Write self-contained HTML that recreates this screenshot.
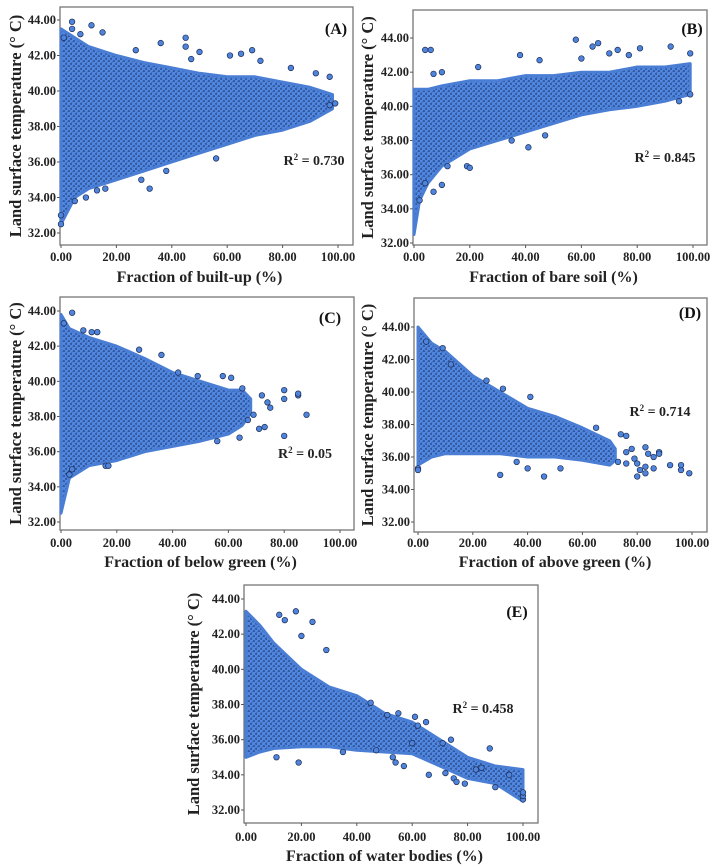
<!DOCTYPE html>
<html><head><meta charset="utf-8">
<style>
html,body{margin:0;padding:0;background:#fff;}
svg{display:block;font-family:"Liberation Serif",serif;font-weight:bold;}
</style></head>
<body>
<svg id="fig" width="715" height="868" viewBox="0 0 715 868">
<defs>
<pattern id="dots" width="5" height="5" patternUnits="userSpaceOnUse">
<rect width="5" height="5" fill="#3a66b8"/>
<circle cx="1.25" cy="1.25" r="2.3" fill="#5087e0" stroke="#22386a" stroke-width="0.45"/>
<circle cx="3.75" cy="3.75" r="2.3" fill="#5087e0" stroke="#22386a" stroke-width="0.45"/>
</pattern>
</defs>
</svg>
<script>
// Panel A: built-up
const aX=[0,5,10,20,30,40,50,60,70,80,90,98];
const aLo=[32.5,34,34.5,35,35.5,36,36.5,37,37.5,37.8,38.3,39];
const aHi=[43.5,43,42.5,42,41.6,41.3,41,40.8,40.8,40.5,40.2,39.8];
const aOutX=[4,11,4,15,7,1,45,36,45,27,69,50,65,61,72,83,92,97,99,56,32,16,13,9,5,0,0,29,38,97,47];
const aOutY=[43.9,43.7,43.5,43.3,43.2,43,43,42.7,42.5,42.3,42.3,42.2,42.1,42,41.7,41.3,41,40.8,39.3,36.2,34.5,34.5,34.4,34,33.8,32.5,33,35,35.5,39.2,41.8];
// Panel B: bare soil
const bX=[0,2,5,10,20,30,40,50,60,70,80,90,99];
const bLo=[32.5,34.5,35.5,36.5,37.5,38,38.5,39,39.5,39.8,40,40.3,40.7];
const bHi=[41,41,41,41.2,41.5,41.5,41.8,41.8,42,42,42.3,42.3,42.5];
const bOutX=[4,6,58,66,64,92,38,99,70,73,81,45,7,10,23,4,7,10,2,12,19,41,47,35,20,95,99,77,60];
const bOutY=[43.3,43.3,43.9,43.7,43.5,43.5,43,43.1,43.1,43.3,43.4,42.7,41.9,42,42.3,35.5,35,35.4,34.5,36.5,36.5,37.6,38.3,38,36.4,40.3,40.7,43,42.8];
// Panel C: below green
const cX=[0,3,10,20,30,40,50,60,65,68];
const cLo=[32.5,34.5,35.2,35.5,36,36.3,36.6,37,37.5,38.2];
const cHi=[43.8,43,42.5,42,41.3,40.5,40,39.5,39.5,39];
const cOutX=[4,1,8,11,13,28,36,42,49,58,61,65,72,74,75,80,80,85,85,88,80,71,73,64,56,16,17,4,3,67,69];
const cOutY=[43.9,43.3,42.9,42.8,42.8,41.8,41.5,40.5,40.3,40.3,40.2,39.6,39.2,38.8,38.5,39.5,39,39.2,39.3,38.1,36.9,37.3,37.4,36.8,36.6,35.2,35.2,35,34.7,37.8,38.1];
// Panel D: above green
const dX=[0,5,10,20,30,40,50,60,70,72];
const dLo=[35.5,36,36.2,36.2,36.2,36,36,35.8,35.5,35.8];
const dHi=[44,43,42.5,41,40,39,38.5,37.8,37,36.5];
const dOutX=[0,0,30,46,40,36,52,80,81,83,83,86,92,96,96,99,88,88,84,83,86,76,78,74,76,65,41,31,25,12,3,9,79,80,76,73];
const dOutY=[35.3,35.2,34.9,34.8,35.3,35.7,35.3,34.8,35.2,35,35.4,35.3,35.5,35.2,35.5,35,36.3,36.2,36.2,36.6,36,36.3,36.5,37.4,37.3,37.8,39.7,40.2,40.7,41.7,43.1,42.7,35.9,35.6,35.6,35.7];
// Panel E: water bodies
const eX=[0,5,10,20,30,40,50,60,70,80,90,100];
const eLo=[35,35.3,35.5,35.6,35.6,35.4,35.3,35.2,34.5,33.8,33.5,32.5];
const eHi=[43.3,42.5,41.5,40,39,38.5,37.5,37,36,35,34.5,34.3];
const eOutX=[18,12,24,14,29,20,45,55,61,65,51,62,88,57,66,72,79,90,75,76,11,19,35,47,53,54,100,100,100,74,71,85,83,95,60];
const eOutY=[43.3,43.1,42.7,42.8,41.1,41.9,38.1,37.5,37.3,37,37.4,36.8,35.5,34.5,34,34.1,33.5,33.3,33.8,33.6,35,34.7,35.3,35.4,35,34.7,32.6,32.8,33,36,35.8,34.4,34.3,34,35.8];
const yTicks=["32.00","34.00","36.00","38.00","40.00","42.00","44.00"];
const xTicks=["0.00","20.00","40.00","60.00","80.00","100.00"];

const NS="http://www.w3.org/2000/svg";
const svg=document.getElementById('fig');
function mk(tag,attrs,parent){const e=document.createElementNS(NS,tag);for(const k in attrs)e.setAttribute(k,attrs[k]);(parent||svg).appendChild(e);return e;}

function panel(p,xs,lo,hi,ox,oy){
  const g=mk('g',{});
  
  
  const sx=v=>p.x0+(p.x1-p.x0)*v/100;
  const sy=v=>p.y32+(p.y44-p.y32)*(v-32)/12;
  const fr=mk('rect',{x:p.fl,y:p.ft,width:p.fr-p.fl,height:p.fb-p.ft,fill:'none',stroke:'#777',"stroke-width":1.3},g);
  
  
  yTicks.forEach(t=>{
    const y=sy(parseFloat(t));
    mk('line',{x1:p.fl-3,x2:p.fl,y1:y,y2:y,stroke:'#555'},g);
    const tx=mk('text',{x:p.fl-4,y:y+4,"text-anchor":"end","font-size":12.5,fill:'#222'},g);
    tx.textContent=t;
    
    
  });
  xTicks.forEach(t=>{
    const x=sx(parseFloat(t));
    mk('line',{x1:x,x2:x,y1:p.fb,y2:p.fb+3,stroke:'#555'},g);
    const tx=mk('text',{x:x,y:p.tly,"text-anchor":"middle","font-size":12.5,fill:'#222'},g);
    tx.textContent=t;
    
    
  });
  let d='';
  xs.forEach((v,i)=>{d+=(i?'L':'M')+sx(v).toFixed(1)+','+sy(hi[i]).toFixed(1);});
  for(let i=xs.length-1;i>=0;i--)d+='L'+sx(xs[i]).toFixed(1)+','+sy(lo[i]).toFixed(1);
  d+='Z';
  const band=mk('path',{d:d,fill:'url(#dots)',stroke:'#4a7dd4',"stroke-width":3,"stroke-linejoin":"round"},g);
  
  
  ox.forEach((v,i)=>{
    const c=mk('circle',{cx:sx(v),cy:sy(oy[i]),r:2.8,fill:'#4f84dc',stroke:'#1b2a52',"stroke-width":0.7},g);
    
    
  });
  const lab=mk('text',{x:p.lx,y:p.ly,"text-anchor":"middle","font-size":16,fill:'#111'},g);
  lab.textContent='('+p.id+')';
  
  
  const r=mk('text',{x:p.rx,y:p.ry,"text-anchor":"middle","font-size":14,fill:'#222'},g);
  r.innerHTML='R<tspan dy="-5" font-size="9">2</tspan><tspan dy="5"> = '+p.r2+'</tspan>';
  
  
  const xt=mk('text',{x:(p.x0+p.x1)/2,y:p.xty,"text-anchor":"middle","font-size":16,fill:'#222'},g);
  xt.textContent=p.xtitle;
  
  
  const ym=(p.ft+p.fb)/2;
  const yt=mk('text',{x:p.ytx,y:ym,"text-anchor":"middle","font-size":16.5,fill:'#222',transform:'rotate(-90 '+p.ytx+' '+ym+')'},g);
  yt.textContent='Land surface temperature (° C)';
  
  
}
panel({id:'A',fl:60,ft:7,fr:353,fb:245,x0:61,x1:338,y32:233,y44:20,tly:261,xty:282,ytx:21,lx:336,ly:34,rx:314,ry:165,r2:'0.730',xtitle:'Fraction of built-up (%)'},aX,aLo,aHi,aOutX,aOutY);
panel({id:'B',fl:413,ft:10,fr:707,fb:245,x0:414,x1:693,y32:243,y44:38,tly:261,xty:282,ytx:373,lx:692,ly:34,rx:665,ry:162,r2:'0.845',xtitle:'Fraction of bare soil (%)'},bX,bLo,bHi,bOutX,bOutY);
panel({id:'C',fl:60,ft:297,fr:354,fb:530,x0:61,x1:340,y32:522,y44:311,tly:547,xty:567,ytx:21,lx:330,ly:323,rx:305,ry:458,r2:'0.05',xtitle:'Fraction of below green (%)'},cX,cLo,cHi,cOutX,cOutY);
panel({id:'D',fl:414,ft:298,fr:707,fb:532,x0:418,x1:692,y32:522,y44:327,tly:547,xty:567,ytx:373,lx:690,ly:318,rx:660,ry:416,r2:'0.714',xtitle:'Fraction of above green (%)'},dX,dLo,dHi,dOutX,dOutY);
panel({id:'E',fl:244,ft:585,fr:538,fb:823,x0:246,x1:523,y32:810,y44:599,tly:841,xty:861,ytx:199,lx:517,ly:617,rx:483,ry:713,r2:'0.458',xtitle:'Fraction of water bodies (%)'},eX,eLo,eHi,eOutX,eOutY);
</script>
</body></html>
